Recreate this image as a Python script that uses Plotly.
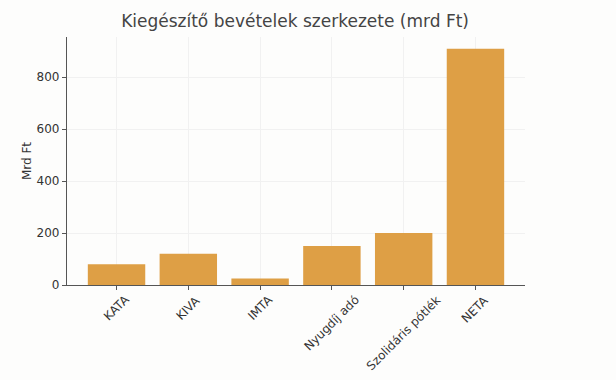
import plotly.graph_objects as go

categories = ["KATA", "KIVA", "IMTA", "Nyugdíj adó", "Szolidáris pótlék", "NETA"]
values = [80, 120, 25, 150, 200, 910]
yticks = [0, 200, 400, 600, 800]

xpos = list(range(len(categories)))

fig = go.Figure()
fig.add_trace(go.Bar(
    x=xpos, y=values, width=0.8,
    marker=dict(color="#DE9F45", line=dict(width=0)),
    hoverinfo="skip",
))
# category labels rotated 45°, centred under each tick
for xi, lab in zip(xpos, categories):
    fig.add_annotation(
        x=xi, y=0, xref="x", yref="y", text=lab, showarrow=False,
        textangle=-45, xanchor="center", yanchor="top", yshift=-5,
        font=dict(family="DejaVu Sans", size=12, color="#333333"),
    )
fig.update_layout(
    width=616, height=380,
    margin=dict(l=67, r=91, t=37, b=95, autoexpand=False),
    paper_bgcolor="#fdfdfc", plot_bgcolor="#fdfdfc",
    font=dict(family="DejaVu Sans", color="#333333", size=12),
    title=dict(text="Kiegészítő bevételek szerkezete (mrd Ft)", x=0.479, xanchor="center",
               y=0.945, yanchor="middle", font=dict(size=17, color="#444444")),
    showlegend=False,
)
fig.update_xaxes(
    tickmode="array", tickvals=xpos, showticklabels=False,
    range=[-0.69, 5.69], automargin=False,
    showline=True, linecolor="#555555", linewidth=1.2,
    ticks="outside", ticklen=4, tickcolor="#555555",
    showgrid=True, gridcolor="#f1f1f1", zeroline=False,
)
fig.update_yaxes(
    range=[0, 955], tickvals=yticks, automargin=False,
    showline=True, linecolor="#555555", linewidth=1.2,
    ticks="outside", ticklen=4, tickcolor="#555555",
    showgrid=True, gridcolor="#f1f1f1", zeroline=False,
    title=dict(text="Mrd Ft", font=dict(size=12, color="#333333"), standoff=2),
    tickfont=dict(size=12, color="#333333"),
)
fig.write_html("out.html", config={"displayModeBar": False},
               post_script="document.body.style.margin='0';document.body.style.background='#fdfdfc';")
